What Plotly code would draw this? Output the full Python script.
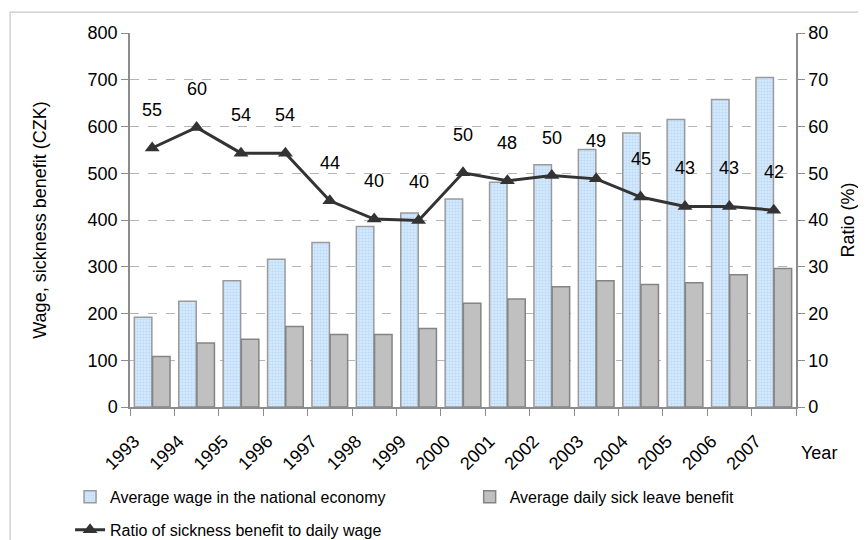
import plotly.graph_objects as go

years = ["1993", "1994", "1995", "1996", "1997", "1998", "1999", "2000",
         "2001", "2002", "2003", "2004", "2005", "2006", "2007"]
avg_wage = [192, 226, 270, 316, 352, 386, 415, 445, 481, 518, 551, 586, 615, 658, 705]
sick_benefit = [108, 137, 145, 172, 155, 155, 168, 222, 231, 257, 270, 262, 266, 283, 296]
ratio = [55.4, 59.8, 54.3, 54.3, 44.1, 40.2, 39.9, 50.1, 48.4, 49.5, 48.8, 44.9, 42.9, 42.9, 42.1]
ratio_labels = ["55", "60", "54", "54", "44", "40", "40", "50", "48", "50", "49", "45", "43", "43", "42"]

FONT = "Liberation Sans, Arial, sans-serif"

fig = go.Figure()
fig.add_trace(go.Bar(
    x=years, y=avg_wage, name="Average wage in the national economy",
    marker=dict(color="#d0e6fc", line=dict(color="#9a9a9a", width=1.5),
                pattern=dict(shape=".", fgcolor="#9fc9f3", bgcolor="#dcecfd", size=3, solidity=0.5)),
    legend="legend",
))
fig.add_trace(go.Bar(
    x=years, y=sick_benefit, name="Average daily sick leave benefit",
    marker=dict(color="#c0c0c0", line=dict(color="#848484", width=1.5)),
    legend="legend3",
))
fig.add_trace(go.Scatter(
    x=years, y=ratio, name="Ratio of sickness benefit to daily wage", yaxis="y2",
    mode="lines+markers", line=dict(color="#333333", width=3),
    marker=dict(symbol="triangle-up", size=13, color="#333333"),
    legend="legend2",
))

annotations = []
for i, (r, lab) in enumerate(zip(ratio, ratio_labels)):
    annotations.append(dict(x=i, y=r, xref="x", yref="y2", text=lab, showarrow=False,
                            yshift=38, font=dict(size=18, color="#000000", family=FONT)))
annotations.append(dict(x=1.035, y=-0.122, xref="paper", yref="paper", text="Year", showarrow=False,
                        xanchor="center", yanchor="middle", font=dict(size=18, color="#000000", family=FONT)))

leg_common = dict(orientation="h", xanchor="left", yanchor="top",
                  font=dict(size=16, family=FONT), bgcolor="rgba(0,0,0,0)")

fig.update_layout(
    width=858, height=532,
    margin=dict(l=122, r=70, t=25, b=133, autoexpand=False),
    paper_bgcolor="white", plot_bgcolor="white",
    font=dict(family=FONT, size=17, color="#000000"),
    barmode="group", bargap=0.18, bargroupgap=0.04,
    showlegend=True,
    legend=dict(x=-0.09, y=-0.195, **leg_common),
    legend3=dict(x=0.51, y=-0.195, **leg_common),
    legend2=dict(x=-0.09, y=-0.283, **leg_common),
    xaxis=dict(type="category", categoryorder="array", categoryarray=years,
               range=[-0.5, len(years) - 0.5], automargin=False,
               showline=True, linecolor="#8c8c8c", linewidth=1.5,
               ticks="outside", tickson="boundaries", ticklen=7, tickcolor="#8c8c8c",
               tickangle=-45, tickfont=dict(size=18), ticklabelstandoff=15, ticklabelshift=-18,
               showgrid=False, mirror=False),
    yaxis=dict(range=[0, 800], dtick=100, showline=True, linecolor="#8c8c8c", linewidth=1.5,
               ticks="outside", ticklen=7, tickcolor="#8c8c8c", tickfont=dict(size=18),
               showgrid=True, gridcolor="#b5b5b5", griddash="dash", gridwidth=1,
               zeroline=False, automargin=False,
               title=dict(text="Wage, sickness benefit (CZK)", font=dict(size=18), standoff=36)),
    yaxis2=dict(range=[0, 80], dtick=10, overlaying="y", side="right", showline=True,
                linecolor="#8c8c8c", linewidth=1.5, ticks="outside", ticklen=7, tickcolor="#8c8c8c",
                tickfont=dict(size=18), showgrid=False, zeroline=False, automargin=False,
                title=dict(text="Ratio (%)", font=dict(size=18), standoff=14)),
    annotations=annotations,
    shapes=[dict(type="rect", xref="paper", yref="paper", x0=-0.18, x1=1.12, y0=-0.4, y1=1.056,
                 line=dict(color="#c8c8c8", width=1.2), fillcolor="rgba(0,0,0,0)", layer="below")],
)

fig.write_html("out.html")
